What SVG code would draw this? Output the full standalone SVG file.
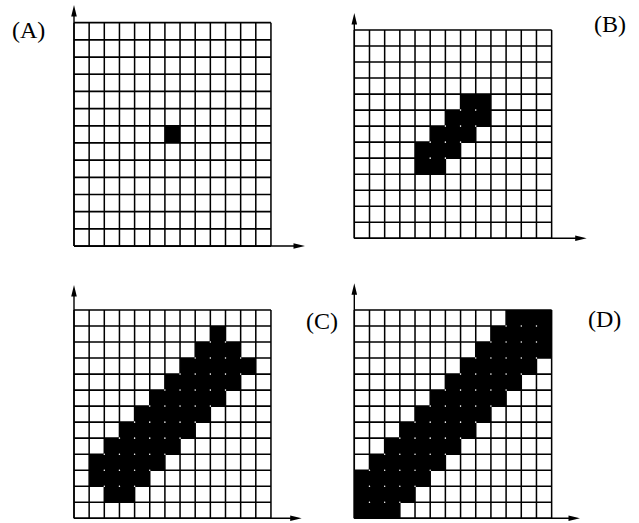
<svg xmlns="http://www.w3.org/2000/svg" xmlns:xlink="http://www.w3.org/1999/xlink" width="639" height="523" viewBox="0 0 639 523">
<style>
.grid{fill:none;stroke:#000;stroke-width:0.1}
.blk{fill:#000}
.dots{fill:none;stroke:#fff;stroke-width:0.1;stroke-linecap:round}
.ax{fill:none;stroke:#000;stroke-width:1.4}
.ah{fill:#000}
.lbl{font-family:"Liberation Serif","Times New Roman",serif;font-size:24px;fill:#000}
</style>
<defs>
<path id="g" d="M0 0V13M1 0V13M2 0V13M3 0V13M4 0V13M5 0V13M6 0V13M7 0V13M8 0V13M9 0V13M10 0V13M11 0V13M12 0V13M13 0V13M0 0H13M0 1H13M0 2H13M0 3H13M0 4H13M0 5H13M0 6H13M0 7H13M0 8H13M0 9H13M0 10H13M0 11H13M0 12H13M0 13H13"/>
</defs>
<rect width="639" height="523" fill="#fff"/>

<g id="panelA">
<g transform="translate(74,22.7) scale(15.15,17.18)">
<path class="blk" d="M6 6h1v1h-1z"/>
<use href="#g" class="grid"/>
<path fill="none" stroke="#000" stroke-width="0.06" d="M0 3H13M0 10H13"/>
</g>
<text class="lbl" x="12" y="38">(A)</text>
</g>

<g id="panelB">
<g transform="translate(354.3,30) scale(15.18,16.02)">
<path class="blk" d="M7 4h2v1h-2zM6 5h3v1h-3zM5 6h3v1h-3zM4 7h3v1h-3zM4 8h2v1h-2z"/>
<use href="#g" class="grid"/>
<path class="dots" d="M7 5h0M8 5h0M6 6h0M7 6h0M8 6h0M5 7h0M6 7h0M7 7h0M5 8h0M6 8h0"/>
</g>
<text class="lbl" x="594" y="31.5">(B)</text>
</g>

<g id="panelC">
<g transform="translate(74,310) scale(15.15,16.02)">
<path class="blk" d="M9 1h1v1h-1zM8 2h3v1h-3zM7 3h5v1h-5zM6 4h5v1h-5zM5 5h5v1h-5zM4 6h5v1h-5zM3 7h5v1h-5zM2 8h5v1h-5zM1 9h5v1h-5zM1 10h4v1h-4zM2 11h2v1h-2z"/>
<use href="#g" class="grid"/>
<path class="dots" d="M9 2h0M10 2h0M8 3h0M9 3h0M10 3h0M11 3h0M7 4h0M8 4h0M9 4h0M10 4h0M11 4h0M6 5h0M7 5h0M8 5h0M9 5h0M10 5h0M5 6h0M6 6h0M7 6h0M8 6h0M9 6h0M4 7h0M5 7h0M6 7h0M7 7h0M8 7h0M3 8h0M4 8h0M5 8h0M6 8h0M7 8h0M2 9h0M3 9h0M4 9h0M5 9h0M6 9h0M2 10h0M3 10h0M4 10h0M5 10h0M2 11h0M3 11h0M4 11h0"/>
</g>
<text class="lbl" x="306" y="328.5">(C)</text>
</g>

<g id="panelD">
<g transform="translate(354.3,310) scale(15.18,16.02)">
<path class="blk" d="M10 0h3v1h-3zM9 1h4v1h-4zM8 2h5v1h-5zM7 3h5v1h-5zM6 4h5v1h-5zM5 5h5v1h-5zM4 6h5v1h-5zM3 7h5v1h-5zM2 8h5v1h-5zM1 9h5v1h-5zM0 10h5v1h-5zM0 11h4v1h-4zM0 12h3v1h-3z"/>
<use href="#g" class="grid"/>
<path class="dots" d="M10 1h0M11 1h0M12 1h0M9 2h0M10 2h0M11 2h0M12 2h0M8 3h0M9 3h0M10 3h0M11 3h0M12 3h0M7 4h0M8 4h0M9 4h0M10 4h0M11 4h0M6 5h0M7 5h0M8 5h0M9 5h0M10 5h0M5 6h0M6 6h0M7 6h0M8 6h0M9 6h0M4 7h0M5 7h0M6 7h0M7 7h0M8 7h0M3 8h0M4 8h0M5 8h0M6 8h0M7 8h0M2 9h0M3 9h0M4 9h0M5 9h0M6 9h0M1 10h0M2 10h0M3 10h0M4 10h0M5 10h0M1 11h0M2 11h0M3 11h0M4 11h0M1 12h0M2 12h0M3 12h0"/>
</g>
<text class="lbl" x="588" y="326.5">(D)</text>
</g>

<g id="axes">
<path class="ax" d="M74 246V15M74 246H295"/>
<path class="ah" d="M74 5L71.2 16.5H76.8ZM305 246L293.5 243.2V248.8Z"/>
<path class="ax" d="M354.3 238.3V23M354.3 238.3H577"/>
<path class="ah" d="M354.3 13L351.5 24.5H357.1ZM586.7 238.3L575.2 235.5V241.1Z"/>
<path class="ax" d="M74 518.3V295M74 518.3H292"/>
<path class="ah" d="M74 285L71.2 296.5H76.8ZM301.7 518.3L290.2 515.5V521.1Z"/>
<path class="ax" d="M354.3 518.3V293M354.3 518.3H570"/>
<path class="ah" d="M354.3 283.3L351.5 294.8H357.1ZM580 518.3L568.5 515.5V521.1Z"/>
</g>
</svg>
